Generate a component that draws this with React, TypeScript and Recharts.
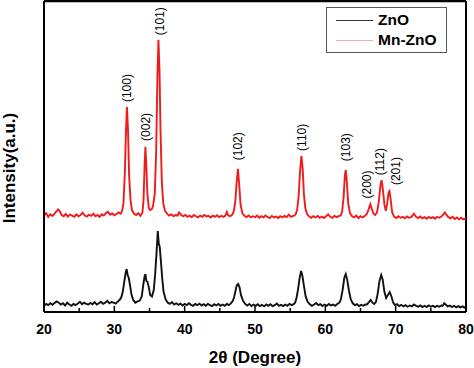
import {
  LineChart, Line, XAxis, YAxis, ReferenceLine, ReferenceDot, Legend,
} from 'recharts'

// Mn-ZnO pattern (offset upward), [2θ, intensity]
const mnZno: [number, number][] = [
  [20.0, 31.0], [20.3, 31.8], [20.6, 30.6], [20.9, 31.4], [21.2, 30.9], [21.5, 31.6], [21.8, 32.4],
  [22.0, 33.0], [22.2, 32.6], [22.5, 31.2], [22.8, 30.8], [23.1, 31.5], [23.4, 30.7], [23.7, 31.3],
  [24.0, 31.0], [24.3, 30.6], [24.6, 31.4], [24.9, 30.8], [25.2, 31.2], [25.5, 31.9], [25.8, 31.0],
  [26.1, 30.7], [26.4, 31.3], [26.7, 30.9], [27.0, 31.6], [27.3, 30.8], [27.6, 31.2], [27.9, 30.6],
  [28.2, 31.4], [28.5, 31.0], [28.8, 31.8], [29.1, 32.2], [29.4, 31.3], [29.7, 31.7], [30.0, 31.1],
  [30.3, 31.5], [30.6, 32.0], [30.9, 31.6], [31.1, 32.5], [31.3, 35.0], [31.5, 45.0], [31.65, 58.0],
  [31.8, 65.9], [31.95, 58.0], [32.1, 44.0], [32.3, 36.0], [32.5, 32.8], [32.8, 31.6], [33.1, 31.2],
  [33.4, 31.8], [33.7, 30.9], [34.0, 32.0], [34.15, 36.0], [34.3, 47.0], [34.42, 53.1], [34.55, 47.0],
  [34.7, 38.0], [34.9, 33.5], [35.1, 32.8], [35.3, 33.0], [35.5, 34.0], [35.75, 38.0], [35.95, 52.0],
  [36.12, 75.0], [36.27, 87.5], [36.42, 78.0], [36.57, 58.0], [36.75, 42.0], [36.95, 35.0], [37.2, 32.5],
  [37.5, 31.6], [37.8, 31.0], [38.1, 31.4], [38.4, 30.8], [38.7, 31.2], [39.0, 31.0], [39.2, 32.0],
  [39.5, 31.2], [39.8, 30.8], [40.1, 31.2], [40.4, 30.6], [40.7, 31.0], [41.0, 30.5], [41.3, 31.2],
  [41.6, 30.8], [41.9, 30.4], [42.2, 31.0], [42.5, 30.6], [42.8, 31.2], [43.1, 30.7], [43.4, 30.9],
  [43.7, 30.4], [44.0, 31.0], [44.3, 30.6], [44.6, 31.1], [44.9, 30.5], [45.2, 30.9], [45.5, 30.6],
  [45.8, 31.0], [46.0, 32.2], [46.2, 31.0], [46.5, 30.8], [46.8, 31.4], [47.0, 32.5], [47.2, 35.5],
  [47.4, 42.0], [47.58, 46.0], [47.75, 41.0], [47.95, 34.5], [48.2, 31.8], [48.5, 30.9], [48.8, 30.5],
  [49.1, 31.0], [49.4, 30.4], [49.7, 30.8], [50.0, 30.5], [50.3, 31.0], [50.6, 30.3], [50.9, 30.8],
  [51.2, 30.4], [51.5, 31.0], [51.8, 30.5], [52.1, 30.2], [52.4, 30.9], [52.7, 30.4], [53.0, 30.7],
  [53.3, 30.2], [53.6, 30.8], [53.9, 30.4], [54.2, 30.9], [54.5, 30.5], [54.8, 31.3], [55.1, 30.6],
  [55.4, 30.9], [55.6, 31.0], [55.8, 31.5], [56.0, 33.0], [56.2, 37.0], [56.4, 45.0], [56.6, 50.2],
  [56.78, 46.0], [56.95, 38.0], [57.15, 33.5], [57.4, 31.5], [57.7, 30.7], [58.0, 30.3], [58.3, 30.8],
  [58.6, 30.4], [58.9, 30.9], [59.2, 30.3], [59.5, 30.7], [59.8, 30.2], [60.1, 30.8], [60.4, 31.4],
  [60.7, 30.6], [61.0, 30.3], [61.3, 30.9], [61.6, 30.5], [61.9, 30.8], [62.2, 31.0], [62.4, 32.5],
  [62.6, 37.0], [62.78, 44.0], [62.9, 45.7], [63.05, 42.0], [63.25, 35.0], [63.5, 31.8], [63.8, 30.8],
  [64.1, 30.4], [64.4, 31.0], [64.7, 30.2], [65.0, 30.8], [65.3, 30.4], [65.6, 30.9], [65.9, 31.5],
  [66.15, 33.0], [66.4, 34.7], [66.6, 33.2], [66.85, 31.6], [67.1, 31.2], [67.35, 32.0], [67.6, 35.5],
  [67.85, 41.0], [68.0, 42.4], [68.15, 40.0], [68.4, 34.5], [68.6, 32.5], [68.8, 35.0], [69.0, 38.5],
  [69.12, 38.9], [69.3, 36.0], [69.5, 32.0], [69.8, 30.6], [70.1, 30.2], [70.4, 30.8], [70.7, 30.3],
  [71.0, 30.6], [71.3, 30.1], [71.6, 30.7], [71.9, 30.3], [72.2, 30.5], [72.6, 31.6], [72.9, 30.6],
  [73.2, 30.2], [73.5, 30.7], [73.8, 30.1], [74.1, 30.5], [74.4, 30.0], [74.7, 30.6], [75.0, 30.2],
  [75.3, 30.5], [75.6, 30.0], [75.9, 30.6], [76.2, 30.3], [76.5, 30.7], [76.8, 31.4], [77.0, 32.0],
  [77.2, 31.3], [77.5, 30.5], [77.8, 30.1], [78.1, 30.6], [78.4, 29.9], [78.7, 30.4], [79.0, 29.8],
  [79.3, 30.3], [79.6, 29.8], [80.0, 30.1],
]

// Undoped ZnO pattern, [2θ, intensity]
const zno: [number, number][] = [
  [20.0, 2.0], [20.3, 2.6], [20.6, 2.2], [20.9, 2.8], [21.2, 2.3], [21.5, 2.9], [21.8, 3.4],
  [22.1, 3.0], [22.4, 2.4], [22.7, 2.8], [23.0, 2.1], [23.3, 3.0], [23.6, 2.4], [23.9, 2.0],
  [24.2, 2.6], [24.5, 2.2], [24.8, 2.7], [25.1, 3.3], [25.4, 2.5], [25.7, 3.0], [26.0, 2.6],
  [26.3, 2.4], [26.6, 2.9], [26.9, 2.5], [27.2, 3.2], [27.5, 2.4], [27.8, 2.8], [28.1, 3.3],
  [28.4, 2.6], [28.7, 3.0], [29.0, 3.6], [29.3, 2.8], [29.6, 3.2], [29.9, 3.0], [30.2, 2.7],
  [30.5, 3.4], [30.8, 4.0], [31.0, 4.8], [31.2, 6.5], [31.4, 9.5], [31.6, 12.5], [31.75, 13.8],
  [31.9, 11.8], [32.05, 11.0], [32.2, 9.0], [32.45, 5.5], [32.7, 3.8], [33.0, 3.0], [33.3, 3.4],
  [33.6, 3.6], [33.9, 5.0], [34.1, 8.5], [34.3, 11.5], [34.42, 12.2], [34.55, 10.0], [34.7, 9.8],
  [34.9, 8.0], [35.1, 5.5], [35.35, 5.0], [35.6, 7.0], [35.8, 12.0], [36.0, 19.0], [36.18, 26.0],
  [36.32, 22.0], [36.45, 21.0], [36.6, 17.0], [36.8, 11.0], [37.0, 6.5], [37.3, 4.0], [37.6, 3.0],
  [37.9, 2.6], [38.2, 3.2], [38.5, 2.4], [38.8, 2.8], [39.1, 2.3], [39.4, 2.7], [39.7, 2.1],
  [40.0, 2.6], [40.3, 2.2], [40.6, 2.8], [40.9, 2.3], [41.2, 2.0], [41.5, 2.6], [41.8, 2.2],
  [42.1, 2.7], [42.4, 2.1], [42.7, 2.5], [43.0, 2.0], [43.3, 2.6], [43.6, 2.2], [43.9, 1.9],
  [44.2, 2.5], [44.5, 2.1], [44.8, 2.6], [45.1, 2.0], [45.4, 2.4], [45.7, 2.0], [46.0, 2.6],
  [46.3, 2.2], [46.5, 2.6], [46.8, 3.4], [47.0, 4.5], [47.2, 6.5], [47.4, 8.5], [47.6, 9.0],
  [47.8, 8.0], [48.0, 5.5], [48.3, 3.6], [48.6, 2.6], [48.9, 2.1], [49.2, 2.6], [49.5, 1.9],
  [49.8, 2.4], [50.1, 2.0], [50.4, 2.5], [50.7, 1.9], [51.0, 2.3], [51.3, 1.8], [51.6, 2.4],
  [51.9, 2.0], [52.2, 2.5], [52.5, 1.9], [52.8, 2.2], [53.1, 2.7], [53.4, 2.0], [53.7, 2.3],
  [54.0, 1.9], [54.3, 2.4], [54.6, 2.0], [54.9, 2.6], [55.2, 2.2], [55.5, 2.5], [55.7, 3.0],
  [55.9, 4.5], [56.1, 7.0], [56.35, 11.0], [56.55, 13.2], [56.75, 11.5], [56.95, 8.5], [57.2, 5.0],
  [57.5, 3.2], [57.8, 2.5], [58.1, 2.0], [58.4, 2.4], [58.7, 2.9], [59.0, 2.2], [59.3, 2.5],
  [59.6, 1.9], [59.9, 2.4], [60.2, 2.0], [60.5, 2.6], [60.8, 2.1], [61.1, 2.4], [61.4, 2.0],
  [61.7, 2.6], [62.0, 3.0], [62.2, 4.0], [62.45, 7.0], [62.7, 11.0], [62.9, 12.2], [63.1, 10.5],
  [63.35, 7.0], [63.6, 4.2], [63.9, 2.8], [64.2, 2.2], [64.5, 2.5], [64.8, 1.9], [65.1, 2.3],
  [65.4, 2.0], [65.7, 2.4], [65.9, 2.4], [66.2, 3.2], [66.45, 3.9], [66.7, 3.0], [66.95, 2.6],
  [67.2, 3.3], [67.45, 6.0], [67.7, 10.0], [67.95, 11.9], [68.15, 10.5], [68.4, 6.5], [68.65, 4.5],
  [68.9, 5.5], [69.15, 6.4], [69.4, 5.0], [69.65, 3.0], [69.9, 2.2], [70.2, 2.5], [70.5, 1.9],
  [70.8, 2.3], [71.1, 1.8], [71.4, 2.2], [71.7, 1.7], [72.0, 2.1], [72.3, 1.8], [72.6, 2.4],
  [72.9, 2.0], [73.2, 1.7], [73.5, 2.1], [73.8, 1.6], [74.1, 2.0], [74.4, 1.6], [74.7, 2.1],
  [75.0, 1.7], [75.3, 2.0], [75.6, 1.6], [75.9, 2.0], [76.2, 1.7], [76.5, 2.1], [76.7, 2.0],
  [76.9, 2.8], [77.1, 2.4], [77.4, 1.8], [77.7, 2.1], [78.0, 1.6], [78.3, 2.0], [78.6, 1.5],
  [78.9, 1.9], [79.2, 1.5], [79.5, 1.8], [79.8, 1.4], [80.0, 1.6],
]

// Miller indices above the Mn-ZnO reflections: [2θ, label bottom, text]
const peakLabels: [number, number, string][] = [
  [31.8, 67.5, '(100)'],
  [34.5, 55.0, '(002)'],
  [36.5, 89.0, '(101)'],
  [47.6, 48.8, '(102)'],
  [56.7, 51.8, '(110)'],
  [62.9, 48.5, '(103)'],
  [65.9, 36.5, '(200)'],
  [67.8, 44.0, '(112)'],
  [70.0, 40.8, '(201)'],
]

const xTicks = [20, 25, 30, 35, 40, 45, 50, 55, 60, 65, 70, 75, 80]

const series = [
  { name: 'ZnO', color: '#111111', legendColor: '#333333', points: zno },
  { name: 'Mn-ZnO', color: '#ee1c1c', legendColor: '#f4a6b8', points: mnZno },
]

const FONT = '"Liberation Sans", Arial, sans-serif'

function XTick({ x, y, payload }: any) {
  const major = payload.value % 10 === 0
  return (
    <g>
      <line x1={x} x2={x} y1={y} y2={y - (major ? 6 : 4)} stroke="#000" strokeWidth={1.5} />
      {major && (
        <text x={x} y={y + 22} textAnchor="middle" fontFamily={FONT} fontWeight="bold" fontSize={14} fill="#000">
          {payload.value}
        </text>
      )}
    </g>
  )
}

function PeakLabel({ cx, cy, text }: any) {
  return (
    <text
      transform={`translate(${cx + 4},${cy}) rotate(-90)`}
      fontFamily={FONT}
      fontSize={12}
      fill="#000"
    >
      {text}
    </text>
  )
}

function LegendBox() {
  return (
    <div style={{
      border: '1.5px solid #555', background: '#fff', padding: '2px 6px 2px 9px',
      fontFamily: FONT, fontWeight: 'bold', fontSize: 15.5, lineHeight: '20px', width: 104,
    }}>
      {series.map((s) => (
        <div key={s.name} style={{ display: 'flex', alignItems: 'center' }}>
          <span style={{ display: 'inline-block', width: 37, height: 1, background: s.legendColor, marginRight: 5 }} />
          <span>{s.name}</span>
        </div>
      ))}
    </div>
  )
}

export default function App() {
  return (
    <div style={{ position: 'absolute', left: 0, top: 0, background: '#fff' }}>
      <LineChart width={474} height={368} margin={{ top: 1, right: 8, bottom: 0, left: 0 }}>
        <XAxis
          type="number"
          dataKey="x"
          domain={[20, 80]}
          ticks={xTicks}
          interval={0}
          tick={<XTick />}
          tickLine={false}
          tickSize={0}
          tickMargin={0}
          height={56}
          axisLine={{ stroke: '#000', strokeWidth: 2 }}
          allowDataOverflow
          label={(p: any) => (
            <text x={255} y={363} textAnchor="middle" fontFamily={FONT} fontWeight="bold" fontSize={17} fill="#000">
              2θ (Degree)
            </text>
          )}
        />
        <YAxis
          type="number"
          dataKey="y"
          domain={[0, 100]}
          tick={false}
          tickLine={false}
          width={44}
          axisLine={{ stroke: '#000', strokeWidth: 2 }}
          allowDataOverflow
          label={(p: any) => (
            <text transform="translate(15,168) rotate(-90)" textAnchor="middle" fontFamily={FONT} fontWeight="bold" fontSize={17} fill="#000">
              Intensity(a.u.)
            </text>
          )}
        />
        <ReferenceLine y={100} stroke="#000" strokeWidth={2.5} />
        <ReferenceLine x={80} stroke="#000" strokeWidth={2} />
        {series.map((s) => (
          <Line
            key={s.name}
            name={s.name}
            data={s.points.map(([x, y]) => ({ x, y }))}
            dataKey="y"
            type="linear"
            stroke={s.color}
            strokeWidth={1.9}
            dot={false}
            activeDot={false}
            isAnimationActive={false}
          />
        ))}
        {peakLabels.map(([x, y, text]) => (
          <ReferenceDot key={text} x={x} y={y} r={0} shape={(p: any) => <PeakLabel {...p} text={text} />} />
        ))}
        <Legend
          layout="vertical"
          align="center"
          verticalAlign="middle"
          content={() => <LegendBox />}
          wrapperStyle={{ left: 326, top: 7, width: 121, height: 'auto' }}
        />
      </LineChart>
    </div>
  )
}
